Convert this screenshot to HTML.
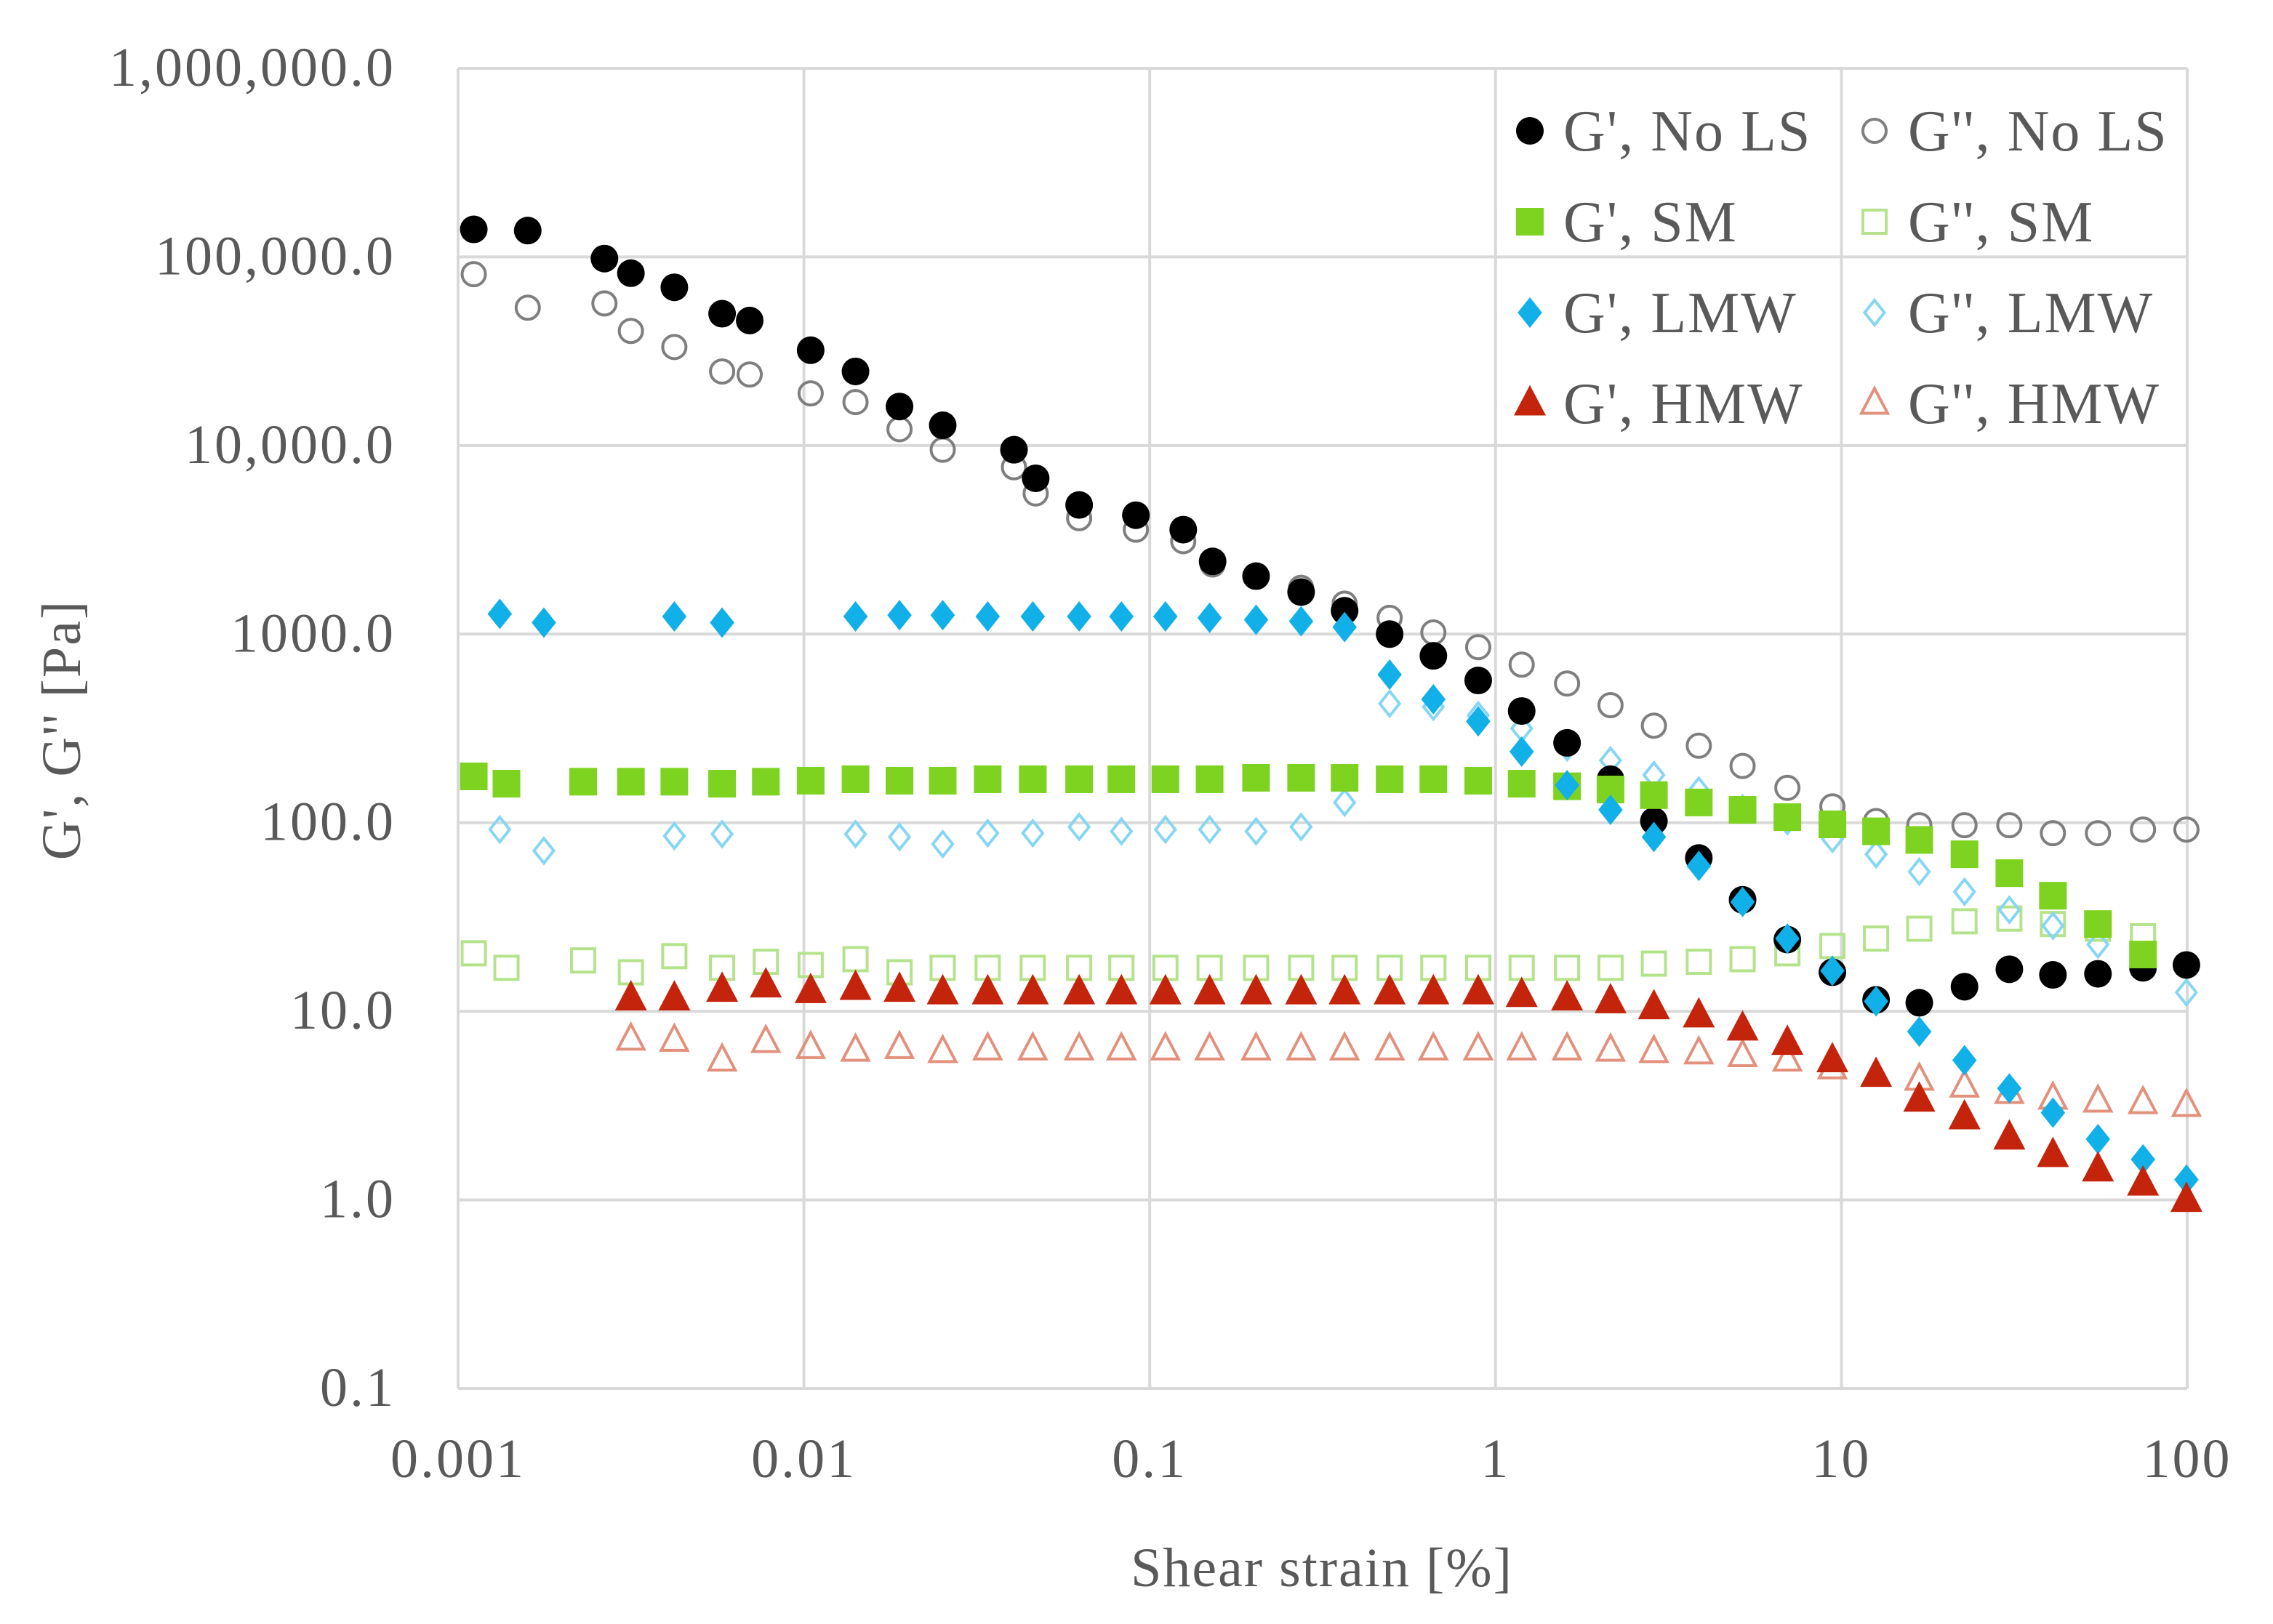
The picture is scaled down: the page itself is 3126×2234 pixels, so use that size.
<!DOCTYPE html>
<html><head><meta charset="utf-8">
<style>
html,body{margin:0;padding:0;background:#fff;}
svg{display:block;}
text{font-family:"Liberation Serif",serif;fill:#595959;}
</style></head>
<body>
<svg id="chart" xmlns="http://www.w3.org/2000/svg" width="3126" height="2234" viewBox="0 0 3126 2234">
<g id="grid"></g>
<g id="axes"></g>
<g id="marks"></g>
<g id="legend"></g>
<text x="1818" y="2182" font-size="76" letter-spacing="2" text-anchor="middle">Shear strain [%]</text>
<text x="0" y="0" font-size="76" letter-spacing="2" text-anchor="middle" transform="translate(110,1004) rotate(-90)">G', G'' [Pa]</text>
</svg>
<script>
const xTicks=[0.001,0.01,0.1,1,10,100];
const xTickLabels=["0.001","0.01","0.1","1","10","100"];
const yTicks=[0.1,1,10,100,1000,10000,100000,1000000];
const yTickLabels=["0.1","1.0","10.0","100.0","1000.0","10,000.0","100,000.0","1,000,000.0"];

const xNoLS=[0.00111,0.00159,0.00265,0.00316,0.00422,0.0058,0.00697,0.01046,0.0141,0.0189,0.0252,0.0405,0.0468,0.0625,0.0912,0.125,0.152,0.203,0.274,0.366,0.494,0.661,0.891,1.19,1.61,2.15,2.87,3.87,5.18,6.98,9.42,12.6,16.8,22.7,30.6,40.9,55.2,74.5,99.5];
const gpNoLS=[140000,138000,98000,82000,69000,50000,46000,32000,24700,16100,12800,9500,6700,4840,4270,3580,2430,2030,1670,1330,1000,767,568,391,265,170,102,65,39,24,16.1,11.5,11.1,13.5,16.7,15.6,15.8,17,17.6];
const gppNoLS=[81000,53800,56700,40500,33300,24700,23800,18900,17000,12200,9500,7670,5570,4120,3580,3110,2340,2030,1760,1450,1220,1020,853,689,547,420,327,256,200,153,122,102,97,97,97,88,88,92,92];

const xSM=[0.00111,0.00138,0.0023,0.00316,0.00422,0.0058,0.00776,0.01046,0.0141,0.0189,0.0252,0.034,0.0459,0.0625,0.0828,0.111,0.149,0.203,0.274,0.366,0.494,0.661,0.891,1.19,1.61,2.15,2.87,3.87,5.18,6.98,9.42,12.6,16.8,22.7,30.6,40.9,55.2,74.5];
const gpSM=[176,161,165,165,165,161,165,167,170,167,167,170,170,170,170,170,170,173,173,173,170,170,167,161,156,150,140,128,117,107,98,90,81,68,54,41,29,20];
const gppSM=[20.3,17,18.6,16.1,19.6,17,18.3,17.6,18.9,16.1,17,17,17,17,17,17,17,17,17,17,17,17,17,17,17,17,17.9,18.3,18.9,20.3,22.2,24.3,27.4,30,31,29,27.4,25];

const xLMW=[0.00132,0.00177,0.00422,0.0058,0.0141,0.0189,0.0252,0.034,0.0459,0.0625,0.0828,0.111,0.149,0.203,0.274,0.366,0.494,0.661,0.891,1.19,1.61,2.15,2.87,3.87,5.18,6.98,9.42,12.6,16.8,22.7,30.6,40.9,55.2,74.5,99.5];
const gpLMW=[1280,1150,1240,1150,1240,1260,1260,1240,1240,1240,1240,1240,1220,1190,1170,1090,610,451,345,238,158,117,84,59,38,24.3,16.4,11.3,7.8,5.5,3.9,2.9,2.1,1.64,1.28];
const gppLMW=[92,71,85,87,87,84,77,88,88,95,90,92,92,90,95,128,428,412,371,316,251,214,179,148,119,102,82,68,55,43,34.5,28.4,22.6,18.3,12.6];

const xHMW=[0.00316,0.00422,0.0058,0.00776,0.01046,0.0141,0.0189,0.0252,0.034,0.0459,0.0625,0.0828,0.111,0.149,0.203,0.274,0.366,0.494,0.661,0.891,1.19,1.61,2.15,2.87,3.87,5.18,6.98,9.42,12.6,16.8,22.7,30.6,40.9,55.2,74.5,99.5];
const gpHMW=[11.7,11.7,13,13.7,12.8,13.3,13,12.6,12.6,12.6,12.6,12.6,12.6,12.6,12.6,12.6,12.6,12.6,12.6,12.6,12.2,11.7,11.3,10.5,9.5,8.1,6.8,5.5,4.6,3.4,2.74,2.14,1.73,1.45,1.22,1.0];
const gppHMW=[7.1,7.0,5.5,6.9,6.4,6.2,6.4,6.1,6.3,6.3,6.3,6.3,6.3,6.3,6.3,6.3,6.3,6.3,6.3,6.3,6.3,6.3,6.2,6.1,6.0,5.8,5.5,5.0,4.6,4.35,4.0,3.7,3.45,3.33,3.27,3.16];

const NS="http://www.w3.org/2000/svg";
const L=630,R=3008,T=94,B=1910;
function xs(v){return L+(Math.log10(v)+3)/5*(R-L);}
function ys(v){return B-(Math.log10(v)+1)/7*(B-T);}
function mk(tag,attrs,parent){const e=document.createElementNS(NS,tag);for(const k in attrs)e.setAttribute(k,attrs[k]);parent.appendChild(e);return e;}
const grid=document.getElementById('grid'),axes=document.getElementById('axes'),marks=document.getElementById('marks'),legend=document.getElementById('legend');

xTicks.forEach((t,i)=>{
  const ln=mk('line',{x1:xs(t),x2:xs(t),y1:T,y2:B,stroke:'#d9d9d9','stroke-width':4},grid);
  
  
  const tx=mk('text',{x:xs(t),y:B+122,'font-size':76,'letter-spacing':3,'text-anchor':'middle'},axes);
  tx.textContent=xTickLabels[i];
  
  
});
yTicks.forEach((t,i)=>{
  const ln=mk('line',{x1:L,x2:R,y1:ys(t),y2:ys(t),stroke:'#d9d9d9','stroke-width':4},grid);
  
  
  const tx=mk('text',{x:544,y:ys(t)+24,'font-size':76,'letter-spacing':3,'text-anchor':'end'},axes);
  tx.textContent=yTickLabels[i];
  
  
});

function marker(shape,cx,cy,fill,stroke,parent){
  let e;
  if(shape==='circle')e=mk('circle',{cx:cx,cy:cy,r:fill==='none'?16:19},parent);
  else if(shape==='square'){const h=fill==='none'?16:19;e=mk('rect',{x:cx-h,y:cy-h,width:2*h,height:2*h},parent);}
  else if(shape==='diamond'){const h=fill==='none'?17:21;e=mk('polygon',{points:`${cx},${cy-h} ${cx+h*0.8},${cy} ${cx},${cy+h} ${cx-h*0.8},${cy}`},parent);}
  else {const h=fill==='none'?18:22;e=mk('polygon',{points:`${cx},${cy-h*1.15} ${cx+h},${cy+h*0.75} ${cx-h},${cy+h*0.75}`},parent);}
  e.setAttribute('fill',fill);
  e.setAttribute('stroke',stroke);
  e.setAttribute('stroke-width',fill==='none'?4:0);
  return e;
}
const series=[
 {n:"G', No LS",x:xNoLS,y:gpNoLS,shape:'circle',fill:'#000000',stroke:'none',id:'g-prime-no-ls'},
 {n:"G'', No LS",x:xNoLS,y:gppNoLS,shape:'circle',fill:'none',stroke:'#7f7f7f',id:'g-double-prime-no-ls'},
 {n:"G', SM",x:xSM,y:gpSM,shape:'square',fill:'#7ed321',stroke:'none',id:'g-prime-sm'},
 {n:"G'', SM",x:xSM,y:gppSM,shape:'square',fill:'none',stroke:'#b4e38c',id:'g-double-prime-sm'},
 {n:"G', LMW",x:xLMW,y:gpLMW,shape:'diamond',fill:'#12b0e8',stroke:'none',id:'g-prime-lmw'},
 {n:"G'', LMW",x:xLMW,y:gppLMW,shape:'diamond',fill:'none',stroke:'#86d6f4',id:'g-double-prime-lmw'},
 {n:"G', HMW",x:xHMW,y:gpHMW,shape:'triangle',fill:'#c4230c',stroke:'none',id:'g-prime-hmw'},
 {n:"G'', HMW",x:xHMW,y:gppHMW,shape:'triangle',fill:'none',stroke:'#e3907c',id:'g-double-prime-hmw'}
];
const order=[1,3,5,7,0,2,4,6];
order.forEach(si=>{
  const s=series[si];
  const g=mk('g',{},marks);
  
  
  s.x.forEach((xv,i)=>{
    if(s.y[i]===undefined)return;
    const m=marker(s.shape,xs(xv),ys(s.y[i]),s.fill,s.stroke,g);
    
    
  });
});
series.forEach((s,i)=>{
  const col=i%2,row=Math.floor(i/2);
  const mx=col===0?2104:2578, my=180+row*125;
  const g=mk('g',{},legend);
  
  
  marker(s.shape,mx,my,s.fill,s.stroke,g);
  const t=mk('text',{x:mx+46,y:my+27,'font-size':80,'letter-spacing':2},g);
  t.textContent=s.n;
});
</script>
</body></html>
